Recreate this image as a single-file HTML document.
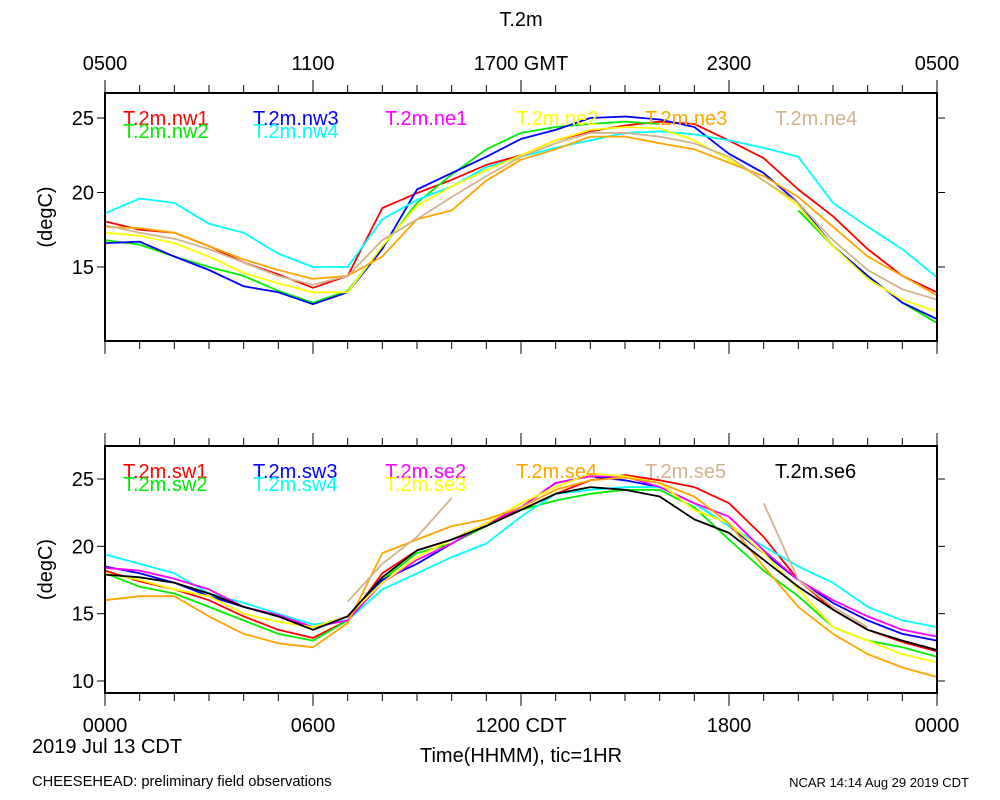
<!DOCTYPE html>
<html><head><meta charset="utf-8"><style>
body{margin:0;background:#fff;}
svg{display:block;font-family:"Liberation Sans",sans-serif;}
</style></head><body>
<svg id="chart" width="1000" height="800"></svg>
<script>
const hours = [0,1,2,3,4,5,6,7,8,9,10,11,12,13,14,15,16,17,18,19,20,21,22,23,24];
// top panel series
const nw1 = [18.06,17.5,17.3,16.4,15.3,14.5,13.6,14.4,18.95,19.96,20.85,21.85,22.5,23.5,24.1,24.5,24.75,24.6,23.5,22.3,20.2,18.4,16.2,14.4,13.3];
const nw2 = [16.8,16.5,15.7,15.0,14.4,13.4,12.6,13.4,16.3,19.3,21.2,22.9,24.0,24.4,24.6,24.75,24.6,null,null,null,18.8,16.4,14.4,12.6,11.25];
const nw3 = [16.6,16.7,15.7,14.8,13.7,13.3,12.5,13.3,16.2,20.2,21.3,22.4,23.6,24.2,25.0,25.1,24.9,24.4,22.6,21.3,19.3,16.4,14.4,12.6,11.5];
const nw4 = [18.6,19.6,19.3,17.9,17.3,15.9,15.0,15.0,18.2,19.5,20.4,21.7,22.4,23.0,23.5,24.0,24.1,23.9,23.5,23.0,22.4,19.3,17.7,16.2,14.3];
const ne1 = [null,null,null,null,null,null,null,null,null,null,null,null,null,null,null,null,null,null,null,null,null,null,null,null,null];
const ne2 = [17.3,17.1,16.6,15.7,14.6,13.9,13.3,13.3,16.4,19.1,20.4,21.5,22.5,23.5,24.2,24.4,24.3,23.5,22.2,20.8,19.1,16.4,14.2,12.8,12.0];
const ne3 = [17.7,17.6,17.3,16.4,15.5,14.8,14.2,14.4,15.7,18.2,18.8,20.8,22.2,22.9,23.75,23.75,23.3,22.9,22.0,21.1,19.7,17.7,15.7,14.4,13.1];
const ne4 = [17.8,17.3,16.9,16.2,15.3,14.4,13.8,14.4,16.8,18.2,19.7,21.1,22.4,23.3,24.0,24.0,23.75,23.3,22.4,20.8,19.3,16.8,14.8,13.5,12.8];
// bottom panel series
const sw1 = [18.2,17.4,16.8,16.0,14.8,13.8,13.2,14.5,18.0,19.7,20.5,21.7,22.7,23.9,24.9,25.3,24.9,24.4,23.2,20.7,17.5,15.3,13.8,12.9,12.2];
const sw2 = [18.0,17.0,16.5,15.5,14.5,13.5,13.0,14.5,17.5,19.5,20.2,21.5,22.7,23.4,23.9,24.2,24.2,22.9,20.5,18.2,16.3,14.0,13.0,12.5,11.8];
const sw3 = [18.5,18.0,17.3,16.3,15.5,14.8,14.0,14.8,17.5,18.7,20.2,21.7,22.9,24.7,25.2,24.9,24.4,23.2,21.5,19.5,17.5,15.8,14.5,13.5,13.0];
const sw4 = [19.4,18.7,18.0,16.5,15.8,15.0,14.2,14.5,16.8,18.0,19.2,20.2,22.2,23.9,24.2,24.4,24.4,23.2,21.5,20.0,18.5,17.3,15.5,14.5,14.0];
const se2 = [18.4,18.2,17.6,16.8,15.5,14.9,14.0,14.5,17.3,19.0,20.2,21.7,22.9,24.7,25.2,25.2,24.4,23.2,22.2,19.7,17.5,16.0,14.8,13.8,13.3];
const se3 = [18.0,17.5,16.8,16.3,15.0,14.4,14.0,14.8,17.3,19.2,20.5,21.7,23.2,24.4,25.4,25.2,24.7,22.7,21.7,19.5,16.8,14.0,13.0,12.0,11.4];
const se4 = [16.0,16.3,16.3,14.8,13.5,12.8,12.5,14.3,19.5,20.5,21.5,22.0,22.9,24.2,24.9,25.1,24.7,23.7,21.7,18.5,15.5,13.5,12.0,11.0,10.3];
const se5 = [null,null,null,null,null,null,null,15.9,18.7,20.7,23.6,null,null,null,null,null,null,null,null,23.2,17.5,15.5,14.0,null,null];
const se6 = [17.9,17.7,17.3,16.5,15.5,14.8,13.8,14.8,17.7,19.7,20.5,21.5,22.7,23.9,24.4,24.2,23.7,22.0,21.0,19.0,17.0,15.3,13.8,13.0,12.3];

const topYTicks = [25,20,15];
const botYTicks = [25,20,15,10];
const topXLabels = ["0500","1100","1700 GMT","2300","0500"];
const botXLabels = ["0000","0600","1200 CDT","1800","0000"];

const NS="http://www.w3.org/2000/svg";
const svg=document.getElementById('chart');
function el(tag,attrs,parent){const e=document.createElementNS(NS,tag);for(const k in attrs)e.setAttribute(k,attrs[k]);(parent||svg).appendChild(e);return e;}
const X0=105,X1=937;
function xs(h){return X0+(X1-X0)*h/24;}
const panels=[
 {name:'top',y0:93,y1:341,tmin:10.03,tmax:26.68,ticks:topYTicks,
  series:[['nw1',nw1,'#ff0000'],['nw2',nw2,'#00ee00'],['nw3',nw3,'#0000ff'],['nw4',nw4,'#00ffff'],['ne1',ne1,'#ff00ff'],['ne2',ne2,'#ffff00'],['ne3',ne3,'#ffa500'],['ne4',ne4,'#d2b48c']],
  legend:[['nw1','#ff0000',0,0],['nw3','#0000ff',1,0],['ne1','#ff00ff',2,0],['ne2','#ffff00',3,0],['ne3','#ffa500',4,0],['ne4','#d2b48c',5,0],['nw2','#00ee00',0,1],['nw4','#00ffff',1,1]]},
 {name:'bottom',y0:446,y1:693,tmin:9.11,tmax:27.45,ticks:botYTicks,
  series:[['sw1',sw1,'#ff0000'],['sw2',sw2,'#00ee00'],['sw3',sw3,'#0000ff'],['sw4',sw4,'#00ffff'],['se2',se2,'#ff00ff'],['se3',se3,'#ffff00'],['se4',se4,'#ffa500'],['se5',se5,'#d2b48c'],['se6',se6,'#000000']],
  legend:[['sw1','#ff0000',0,0],['sw3','#0000ff',1,0],['se2','#ff00ff',2,0],['se4','#ffa500',3,0],['se5','#d2b48c',4,0],['se6','#000000',5,0],['sw2','#00ee00',0,1],['sw4','#00ffff',1,1],['se3','#ffff00',2,1]]}
];
const legX=[123,253,385,516,645,775];
panels.forEach(p=>{
  const ys=t=>p.y1-(p.y1-p.y0)*(t-p.tmin)/(p.tmax-p.tmin);
  const g=el('g',{});
  
  
  p.series.forEach(s=>{
    let d='',pen=false;
    s[1].forEach((v,i)=>{ if(v===null){pen=false;return;} d+=(pen?'L':'M')+xs(hours[i]).toFixed(1)+' '+ys(v).toFixed(1); pen=true;});
    if(!d)return;
    const path=el('path',{d:d,fill:'none',stroke:s[2],'stroke-width':1.8,'stroke-linejoin':'round'},g);
    
    
  });
  const box=el('rect',{x:X0,y:p.y0,width:X1-X0,height:p.y1-p.y0,fill:'none',stroke:'#000','stroke-width':2},g);
  
  
  for(let h=0;h<=24;h++){
    const L=(h%6===0)?13:8;const x=xs(h);
    el('line',{x1:x,x2:x,y1:p.y1,y2:p.y1+L,stroke:'#000','stroke-width':1},g);
    el('line',{x1:x,x2:x,y1:p.y0,y2:p.y0-L,stroke:'#000','stroke-width':1},g);
  }
  p.ticks.forEach(t=>{
    const y=ys(t);
    el('line',{x1:X0-8,x2:X0,y1:y,y2:y,stroke:'#000','stroke-width':1},g);
    el('line',{x1:X1,x2:X1+8,y1:y,y2:y,stroke:'#000','stroke-width':1},g);
    const tx=el('text',{x:94,y:y+7,'text-anchor':'end','font-size':20},g);
    tx.textContent=t;
    
    
  });
  const yl=el('text',{x:0,y:0,'text-anchor':'middle','font-size':20,transform:`translate(52,${(p.y0+p.y1)/2}) rotate(-90)`},g);
  yl.textContent='(degC)';
  
  
  p.legend.forEach(l=>{
    const t=el('text',{x:legX[l[2]],y:p.y0+32+l[3]*13,'font-size':20,fill:l[1]},g);
    t.textContent='T.2m.'+l[0];
    
    
  });
});
topXLabels.forEach((s,i)=>{
  const t=el('text',{x:xs(i*6),y:70,'text-anchor':'middle','font-size':20});
  t.textContent=s;
  
  
});
botXLabels.forEach((s,i)=>{
  const t=el('text',{x:xs(i*6),y:732,'text-anchor':'middle','font-size':20});
  t.textContent=s;
  
  
});
</script>
<div style="position:absolute;left:0;top:0;width:1000px;height:800px;pointer-events:none;font-family:'Liberation Sans',sans-serif;">
  <div style="position:absolute;left:0;width:1042px;text-align:center;top:9px;font-size:20px;">T.2m</div>
  <div style="position:absolute;left:32px;top:736px;font-size:20px;">2019 Jul 13 CDT</div>
  <div style="position:absolute;left:0;width:1042px;text-align:center;top:745px;font-size:20px;">Time(HHMM), tic=1HR</div>
  <div style="position:absolute;left:32px;top:774px;font-size:14.7px;">CHEESEHEAD: preliminary field observations</div>
  <div style="position:absolute;right:31px;top:775px;font-size:13px;">NCAR 14:14 Aug 29 2019 CDT</div>
</div>
</body></html>
